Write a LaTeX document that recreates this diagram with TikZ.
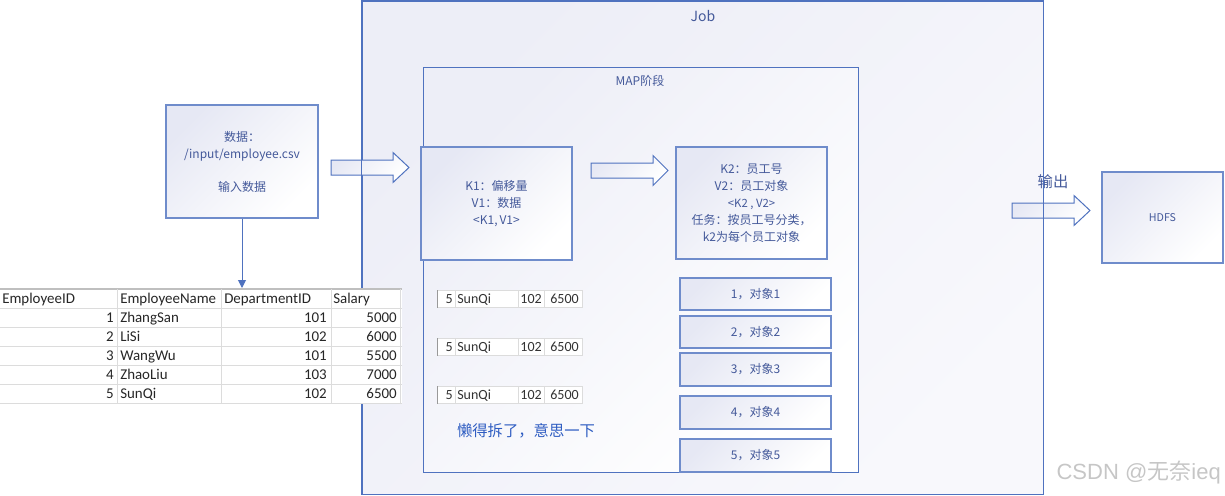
\documentclass[tikz,border=0pt]{standalone}
\usepackage{fontspec}
\setmainfont{Noto Sans CJK SC}
\newfontfamily\xlsfont{Carlito}
\newfontfamily\marksans{Liberation Sans}
\usetikzlibrary{arrows.meta}

\definecolor{boxline}{HTML}{6F8CCB}
\definecolor{jobline}{HTML}{4F72BF}
\definecolor{boxtext}{HTML}{44599A}
\definecolor{boxshade}{HTML}{E6E8F4}
\definecolor{jobshade}{HTML}{EDEEF7}
\definecolor{jobshadeb}{HTML}{F8F8FC}
\definecolor{gridgray}{HTML}{DCDCDC}
\definecolor{notetext}{HTML}{2F5DC2}
\definecolor{marktext}{HTML}{C6C6C6}

\tikzset{
  framebox/.style={draw=jobline, line width=0.75pt, top color=jobshade, bottom color=jobshadeb, shading angle=45, inner sep=0pt},
  mapbox/.style={draw=jobline, line width=0.75pt, top color=jobshade, bottom color=white, shading angle=45, inner sep=0pt},
  stagebox/.style={draw=boxline, line width=0.9pt, top color=boxshade, bottom color=white, shading angle=45, text=boxtext, align=center, inner sep=0pt, font=\fontsize{9}{12.75}\selectfont},
  bigarrow/.style={draw=jobline, line width=0.75pt, top color=boxshade, bottom color=white, shading angle=45},
  cell/.style={inner sep=0pt, text=black!85, font=\xlsfont\fontsize{11.2}{13}\selectfont},
  smallcell/.style={inner sep=0pt, text=black!80, font=\xlsfont\fontsize{10.5}{13}\selectfont},
  gridline/.style={draw=gridgray, line width=0.75pt},
}

\begin{document}
\begin{tikzpicture}[x=0.75pt,y=0.75pt,yscale=-1]
\useasboundingbox (0,0) rectangle (1225,496);

% Job frame
\node[framebox, minimum width=510.75pt, minimum height=369.75pt] (job) at (702.5,247.5) {};
% Text Node
\node[text=boxtext, font=\fontsize{10.5}{12}\selectfont] (joblbl) at (703,16) {Job};

% MAP stage
\node[mapbox, minimum width=326.25pt, minimum height=303.75pt] (map) at (640.5,269.5) {};
% Text Node
\node[text=boxtext, font=\fontsize{9}{12}\selectfont] (maplbl) at (640,81) {MAP阶段};

% input data
\node[stagebox, minimum width=114pt, minimum height=84.75pt] (input) at (242,161.5) {数据：\\/input/employee.csv\\[12pt]输入数据};

% K1 / V1
\node[stagebox, minimum width=113.25pt, minimum height=84.75pt] (kvin) at (496.5,203.5) {K1：偏移量\\V1：数据\\{\fontsize{9}{12.75}\selectfont <K1,\,V1>}};

% K2 / V2
\node[stagebox, minimum width=113.25pt, minimum height=84pt] (kvout) at (751.5,203) {K2：员工号\\V2：员工对象\\{\fontsize{8.5}{12.75}\selectfont <K2 , V2>}\\任务：按员工号分类，\\k2为每个员工对象};

% objects
\node[stagebox, minimum width=113.25pt, minimum height=24pt] (obj1) at (755.5,294) {1，对象1};
\node[stagebox, minimum width=113.25pt, minimum height=24pt] (obj2) at (755.5,332) {2，对象2};
\node[stagebox, minimum width=113.25pt, minimum height=24.75pt] (obj3) at (755.5,369.5) {3，对象3};
\node[stagebox, minimum width=113.25pt, minimum height=24.75pt] (obj4) at (755.5,412.5) {4，对象4};
\node[stagebox, minimum width=113.25pt, minimum height=24.75pt] (obj5) at (755.5,455.5) {5，对象5};

% HDFS
\node[stagebox, font=\fontsize{8}{10}\selectfont, minimum width=90.75pt, minimum height=68.25pt] (hdfs) at (1162.5,217.5) {HDFS};

%Shape: Right Arrow
\draw[bigarrow] (331,160) -- (393,160) -- (393,152.5) -- (409,167.5) -- (393,182.5) -- (393,175) -- (331,175) -- cycle ;
%Shape: Right Arrow
\draw[bigarrow] (591,163) -- (653,163) -- (653,155.5) -- (668,170.5) -- (653,185.5) -- (653,178) -- (591,178) -- cycle ;
%Shape: Right Arrow
\draw[bigarrow] (1012,203) -- (1074,203) -- (1074,195.5) -- (1090,210.5) -- (1074,225.5) -- (1074,218) -- (1012,218) -- cycle ;
% Text Node
\node[text=boxtext, font=\fontsize{11.5}{12}\selectfont] (outlbl) at (1053,182) {输出};

% Job border over the arrows
\draw[jobline, line width=0.75pt] (job.north west) rectangle (job.south east);

% input -> table
\coordinate (tabletop) at (242,288);
\draw[jobline, line width=0.75pt, -{Triangle[length=6pt,width=6pt]}] (input.south) -- (tabletop);

% employee table
\fill[white] (0,289) rectangle (402,403);
\draw[draw=black!25, line width=1.1pt] (0,289) -- (402,289);
\draw[gridline] (0,308) -- (402,308);
\draw[gridline] (0,327) -- (402,327);
\draw[gridline] (0,346) -- (402,346);
\draw[gridline] (0,365) -- (402,365);
\draw[gridline] (0,384) -- (402,384);
\draw[gridline] (0,403) -- (402,403);
\draw[gridline] (117,289) -- (117,403);
\draw[gridline] (221,289) -- (221,403);
\draw[gridline] (331,289) -- (331,403);
\draw[gridline] (400,289) -- (400,403);

% Text Node
\node[cell, anchor=base west] (hid) at (2,303) {EmployeeID};
\node[cell, anchor=base west] (hname) at (120,303) {EmployeeName};
\node[cell, anchor=base west] (hdept) at (224,303) {DepartmentID};
\node[cell, anchor=base west] (hsal) at (333,303) {Salary};
% Text Node
\node[cell, anchor=base east] (id1) at (114,322) {1};
\node[cell, anchor=base west] (name1) at (120,322) {ZhangSan};
\node[cell, anchor=base east] (dept1) at (327,322) {101};
\node[cell, anchor=base east] (sal1) at (397,322) {5000};
% Text Node
\node[cell, anchor=base east] (id2) at (114,341) {2};
\node[cell, anchor=base west] (name2) at (120,341) {LiSi};
\node[cell, anchor=base east] (dept2) at (327,341) {102};
\node[cell, anchor=base east] (sal2) at (397,341) {6000};
% Text Node
\node[cell, anchor=base east] (id3) at (114,360) {3};
\node[cell, anchor=base west] (name3) at (120,360) {WangWu};
\node[cell, anchor=base east] (dept3) at (327,360) {101};
\node[cell, anchor=base east] (sal3) at (397,360) {5500};
% Text Node
\node[cell, anchor=base east] (id4) at (114,379) {4};
\node[cell, anchor=base west] (name4) at (120,379) {ZhaoLiu};
\node[cell, anchor=base east] (dept4) at (327,379) {103};
\node[cell, anchor=base east] (sal4) at (397,379) {7000};
% Text Node
\node[cell, anchor=base east] (id5) at (114,398) {5};
\node[cell, anchor=base west] (name5) at (120,398) {SunQi};
\node[cell, anchor=base east] (dept5) at (327,398) {102};
\node[cell, anchor=base east] (sal5) at (397,398) {6500};

% split rows (1)
\fill[white] (437,290) rectangle (582,307.5);
\draw[gridline] (437,290) -- (582,290) (437,307.5) -- (582,307.5) (455,290) -- (455,307.5) (518,290) -- (518,307.5) (544,290) -- (544,307.5) (582,290) -- (582,307.5);
\draw[black!40, line width=1.2pt] (437.5,290) -- (437.5,307.5);
\node[smallcell, anchor=base east] (rowa1) at (453,303) {5};
\node[smallcell, anchor=base west] (rowa2) at (457,303) {SunQi};
\node[smallcell, anchor=base east] (rowa3) at (542,303) {102};
\node[smallcell, anchor=base east] (rowa4) at (579,303) {6500};
% split rows (2)
\fill[white] (437,338) rectangle (582,355.5);
\draw[gridline] (437,338) -- (582,338) (437,355.5) -- (582,355.5) (455,338) -- (455,355.5) (518,338) -- (518,355.5) (544,338) -- (544,355.5) (582,338) -- (582,355.5);
\draw[black!40, line width=1.2pt] (437.5,338) -- (437.5,355.5);
\node[smallcell, anchor=base east] (rowb1) at (453,351) {5};
\node[smallcell, anchor=base west] (rowb2) at (457,351) {SunQi};
\node[smallcell, anchor=base east] (rowb3) at (542,351) {102};
\node[smallcell, anchor=base east] (rowb4) at (579,351) {6500};
% split rows (3)
\fill[white] (437,386) rectangle (582,403.5);
\draw[gridline] (437,386) -- (582,386) (437,403.5) -- (582,403.5) (455,386) -- (455,403.5) (518,386) -- (518,403.5) (544,386) -- (544,403.5) (582,386) -- (582,403.5);
\draw[black!40, line width=1.2pt] (437.5,386) -- (437.5,403.5);
\node[smallcell, anchor=base east] (rowc1) at (453,399) {5};
\node[smallcell, anchor=base west] (rowc2) at (457,399) {SunQi};
\node[smallcell, anchor=base east] (rowc3) at (542,399) {102};
\node[smallcell, anchor=base east] (rowc4) at (579,399) {6500};

% Text Node
\node[text=notetext, font=\fontsize{11.5}{14}\selectfont] (lazy) at (526,431) {懒得拆了，意思一下};
% Text Node
\node[text=marktext, font=\fontsize{16.5}{18}\selectfont, anchor=east, inner sep=0pt] (mark) at (1221,473) {{\marksans CSDN @}无奈{\marksans ieq}};

\end{tikzpicture}
\end{document}
